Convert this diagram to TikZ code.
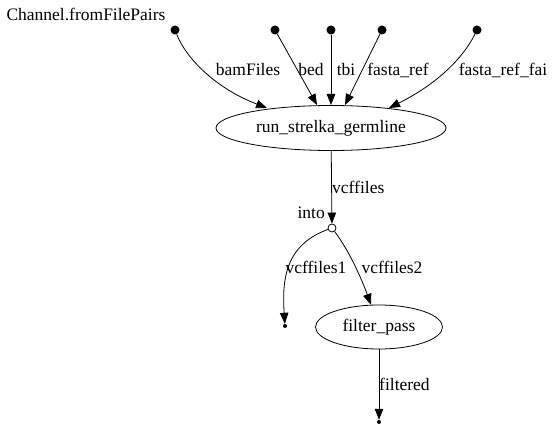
\documentclass[tikz,border=0pt]{standalone}
\usepackage{fontspec}
\setmainfont{Liberation Serif}
\usetikzlibrary{arrows.meta,shapes.geometric}
\begin{document}
\begin{tikzpicture}[x=1pt,y=-1pt,
  every node/.style={font=\fontsize{17.5}{20}\selectfont},
  src/.style={circle,fill=black,inner sep=0pt,minimum size=9pt},
  sink/.style={circle,fill=black,inner sep=0pt,minimum size=4pt},
  op/.style={circle,draw=black,fill=white,inner sep=0pt,minimum size=8pt,line width=0.8pt},
  proc/.style={ellipse,draw=black,line width=0.8pt,inner sep=0pt},
  lbl/.style={inner sep=0pt},
  edge/.style={draw=black,line width=0.8pt,-{Triangle[length=11pt,width=8.5pt]}}]
\useasboundingbox (0,0) rectangle (554,430);
% sources
\node[src] (s1) at (175,30) {};
\node[src] (s2) at (275,30) {};
\node[src] (s3) at (331,30) {};
\node[src] (s4) at (382,30) {};
\node[src] (s5) at (477,30) {};
\node[lbl] (chlbl) at (86,14) {Channel.fromFilePairs};
% process
\node[proc,minimum width=230pt,minimum height=45pt] (run) at (331,128) {run\_strelka\_germline};
\node[op] (into) at (332,228) {};
\node[lbl,anchor=east] (intolbl) at (325,213) {into};
\node[proc,minimum width=127pt,minimum height=44pt] (filt) at (379,327) {filter\_pass};
\node[sink] (k1) at (285,326) {};
\node[sink] (k2) at (379,422) {};
% edges
\draw[edge] (s1) .. controls (186,58) and (215,88) .. (267,108);
\node[lbl] at (248,70) {bamFiles};
\draw[edge] (s2) -- (317,105);
\node[lbl] at (311,70) {bed};
\draw[edge] (s3) -- (331,105);
\node[lbl] at (346,70) {tbi};
\draw[edge] (s4) -- (345,105);
\node[lbl] at (398,70) {fasta\_ref};
\draw[edge] (s5) .. controls (462,60) and (435,85) .. (389,108);
\node[lbl] at (503,70) {fasta\_ref\_fai};
\draw[edge] (run) -- (into);
\node[lbl,anchor=west] at (332,187) {vcffiles};
\draw[edge] (into) .. controls (285,245) and (282,280) .. (k1);
\node[lbl] at (316,267) {vcffiles1};
\draw[edge] (into) .. controls (350,252) and (362,280) .. (filt);
\node[lbl] at (392,267) {vcffiles2};
\draw[edge] (filt) -- (k2);
\node[lbl,anchor=west] at (379,384) {filtered};
\end{tikzpicture}
\end{document}
